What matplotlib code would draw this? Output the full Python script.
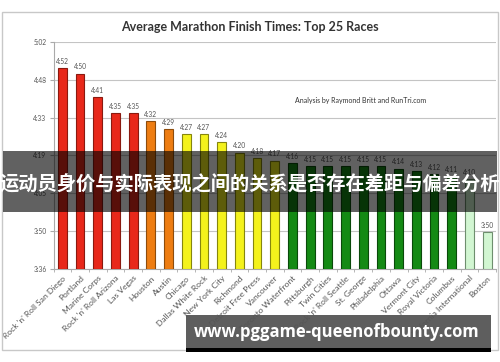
import matplotlib.pyplot as plt
from matplotlib.patches import Rectangle
import numpy as np

races = ["Rock 'n' Roll San Diego", "Portland", "Marine Corps", "Rock 'n' Roll Arizona",
         "Las Vegas", "Houston", "Austin", "Chicago", "Dallas White Rock", "New York City",
         "Richmond", "Detroit Free Press", "Vancouver", "Toronto Waterfront", "Pittsburgh",
         "Twin Cities", "Rock 'n' Roll Seattle", "St. George", "Philadelphia", "Ottawa",
         "Vermont City", "Royal Victoria", "Columbus", "California International", "Boston"]
times = ["4:52", "4:50", "4:41", "4:35", "4:35", "4:32", "4:29", "4:27", "4:27", "4:24",
         "4:20", "4:18", "4:17", "4:16", "4:15", "4:15", "4:15", "4:15", "4:15", "4:14",
         "4:13", "4:12", "4:11", "4:10", "3:50"]
groups = ["red"] * 5 + ["orange"] * 2 + ["yellow"] * 6 + ["green"] * 10 + ["light"] * 2

fills = {"red": "#e8281a", "orange": "#ee7d12", "yellow": "#f4f21c",
         "green": "#148a14", "light": "#d2f6d2"}
edges = {"red": "#8a1a10", "orange": "#8e4c0c", "yellow": "#86860e",
         "green": "#0a4a0a", "light": "#6e8e6e"}

minutes = [int(t.split(":")[0]) * 60 + int(t.split(":")[1]) for t in times]
ymin, ymax = 216, 302
yticks = np.linspace(ymin, ymax, 7)

def fmt(m):
    m = int(round(m))
    return "%d:%02d" % (m // 60, m % 60)

fig = plt.figure(figsize=(5.0, 3.62), dpi=100)
plt.rcParams['font.family'] = ['Lato', 'DejaVu Sans']

# outer chart frame
fig.patches.append(Rectangle((0.004, 0.033), 0.992, 0.934, transform=fig.transFigure,
                             fill=False, edgecolor="#c8c8c8", lw=1.0))

ax = fig.add_axes([0.107, 0.257, 0.885, 0.627])
x = np.arange(len(races))
ax.bar(x, [m - ymin for m in minutes], bottom=ymin, width=0.5,
       color=[fills[g] for g in groups], edgecolor=[edges[g] for g in groups], lw=0.8,
       zorder=3)
for xi, m, t in zip(x, minutes, times):
    ax.text(xi, m + 1.3, t, ha="center", va="bottom", fontsize=4.8, color="#555555")

ax.set_xlim(-0.5, len(races) - 0.5)
ax.set_ylim(ymin, ymax)
ax.set_yticks(yticks)
ax.set_yticklabels([fmt(v) for v in yticks], fontsize=4.8, color="#555555")
ax.yaxis.grid(True, color="#c4c4c4", lw=0.8, zorder=0)
ax.set_xticks(x)
ax.set_xticklabels(races, rotation=45, ha="right", rotation_mode="anchor",
                   fontsize=6.1, color="#555555")
ax.set_xticks(np.arange(-0.5, len(races)), minor=True)
ax.tick_params(axis="x", which="major", length=0, pad=4)
ax.tick_params(axis="x", which="minor", length=2, color="#aaaaaa")
ax.tick_params(axis="y", length=3, color="#aaaaaa", pad=2)
for s in ["top", "right"]:
    ax.spines[s].set_visible(False)
for s in ["left", "bottom"]:
    ax.spines[s].set_color("#aaaaaa")
    ax.spines[s].set_linewidth(0.8)

fig.text(0.5, 0.925, "Average Marathon Finish Times: Top 25 Races", ha="center",
         va="center", fontsize=9, fontweight="bold", color="#333333")
fig.text(0.722, 0.721, "Analysis by Raymond Britt and RunTri.com", ha="center",
         va="center", fontsize=5, color="#333333")

# overlay band with title
fig.patches.append(Rectangle((0.006, 0.414), 0.988, 0.169, transform=fig.transFigure,
                             facecolor="black", alpha=0.62, lw=0, zorder=10))
fig.text(0.5, 0.489, "运动员身价与实际表现之间的关系是否存在差距与偏差分析", ha="center",
         va="center", fontsize=13.9, fontweight="bold", color="white",
         family=["Noto Sans CJK SC", "DejaVu Sans"], zorder=11)

# bottom watermark
fig.patches.append(Rectangle((0.372, 0.039), 0.61, 0.091, transform=fig.transFigure,
                             facecolor="#555555", alpha=0.95, lw=0, zorder=10))
fig.patches.append(Rectangle((0.372, 0.027), 0.61, 0.013, transform=fig.transFigure,
                             facecolor="black", lw=0, zorder=10))
fig.text(0.674, 0.083, "www.pggame-queenofbounty.com", ha="center", va="center",
         fontsize=12, fontweight="bold", color="white",
         family=["Open Sans", "DejaVu Sans"], zorder=11)

fig.savefig("out.png", dpi=100)
